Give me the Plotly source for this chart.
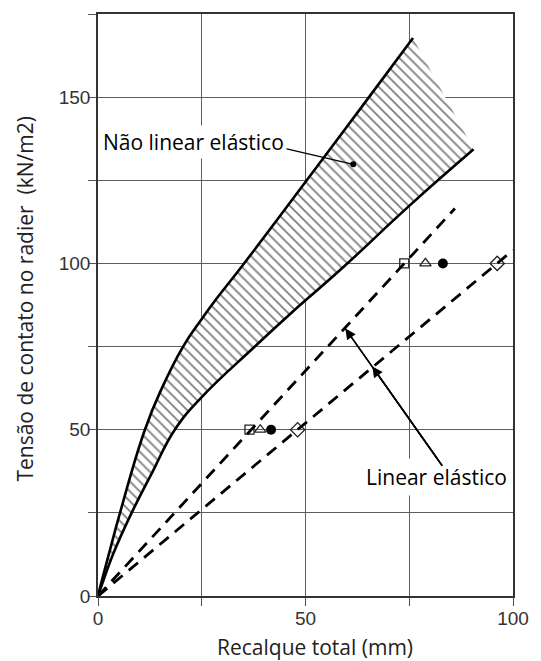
import plotly.graph_objects as go

# ---- data ----
upper_x = [0, 1.0, 2.6, 5.3, 11.3, 15.4, 20.5, 25.0, 28.0, 35.2, 50.3, 65.3, 75.9]
upper_y = [0, 5, 12.5, 25, 50, 62.5, 75, 83.3, 88.5, 100, 125, 150, 167.8]
lower_x = [0, 1.4, 3.6, 8.1, 13.2, 18.5, 25.0, 37.8, 46.3, 58.6, 75.0, 90.5]
lower_y = [0, 5, 12.5, 25, 37.5, 50, 59.8, 75, 84.8, 98.3, 117.3, 134.3]

dash1_x = [0, 86.0]
dash1_y = [0, 116.5]
dash2_x = [0, 100.0]
dash2_y = [0, 104.0]

loads = [50, 100]
square_x = [36.5, 73.8]
triangle_x = [39.1, 78.9]
circle_x = [41.7, 83.1]
diamond_x = [48.1, 96.2]

nl_label = "Não linear elástico"
nl_text_pos = (23.05, 136.6)
nl_leader_x = [44.2, 61.5]
nl_leader_y = [134.8, 129.8]

lin_label = "Linear elástico"
lin_text_pos = (81.6, 35.7)
lin_arrow_start = (83.2, 38.7)
lin_tip1 = (59.6, 80.4)
lin_tip2 = (66.1, 69.0)

x_title = "Recalque total (mm)"
y_title = "Tensão de contato no radier \u00a0(kN/m2)"

x_ticks = [0, 25, 50, 75, 100]
x_ticktext = ["0", "", "50", "", "100"]
y_ticks = [0, 25, 50, 75, 100, 125, 150, 175]
y_ticktext = ["0", "", "50", "", "100", "", "150", ""]

fig = go.Figure()

# hatched band (closed polygon from upper curve and reversed lower curve)
fig.add_trace(go.Scatter(
    x=upper_x + lower_x[::-1], y=upper_y + lower_y[::-1],
    fill="toself", mode="lines", line=dict(width=0, color="rgba(0,0,0,0)"),
    fillcolor="white",
    fillpattern=dict(shape="\\", size=7, solidity=0.26, fgcolor="#000000", bgcolor="white"),
    hoverinfo="skip", showlegend=False))

curve_line = dict(color="black", width=2.6, shape="spline", smoothing=1.3)
fig.add_trace(go.Scatter(x=upper_x, y=upper_y, mode="lines", line=curve_line,
                         hoverinfo="skip", showlegend=False))
fig.add_trace(go.Scatter(x=lower_x, y=lower_y, mode="lines", line=curve_line,
                         hoverinfo="skip", showlegend=False))

# markers
fig.add_trace(go.Scatter(x=square_x, y=loads, mode="markers",
                         marker=dict(symbol="square-open", size=9, color="#222",
                                     line=dict(width=1.3)), showlegend=False))
fig.add_trace(go.Scatter(x=triangle_x, y=loads, mode="markers",
                         marker=dict(symbol="triangle-up-open", size=10, color="#222",
                                     line=dict(width=1.3)), showlegend=False))
fig.add_trace(go.Scatter(x=circle_x, y=loads, mode="markers",
                         marker=dict(symbol="circle", size=10, color="black"), showlegend=False))
fig.add_trace(go.Scatter(x=diamond_x, y=loads, mode="markers",
                         marker=dict(symbol="diamond-open", size=11, color="#222",
                                     line=dict(width=1.3)), showlegend=False))

# dashed linear lines
for dx, dy in [(dash1_x, dash1_y), (dash2_x, dash2_y)]:
    fig.add_trace(go.Scatter(x=dx, y=dy, mode="lines",
                             line=dict(color="black", width=2.8, dash="12px,8px"),
                             showlegend=False))

# leader for non-linear label
fig.add_trace(go.Scatter(x=nl_leader_x, y=nl_leader_y, mode="lines",
                         line=dict(color="black", width=1.3), showlegend=False))
fig.add_trace(go.Scatter(x=[nl_leader_x[-1]], y=[nl_leader_y[-1]], mode="markers",
                         marker=dict(symbol="circle", size=6, color="black"), showlegend=False))

# leader line for linear label
fig.add_trace(go.Scatter(x=[lin_arrow_start[0], lin_tip1[0]], y=[lin_arrow_start[1], lin_tip1[1]],
                         mode="lines", line=dict(color="black", width=1.5), showlegend=False))

txt_font = dict(family="Open Sans, Noto Sans, sans-serif", size=21, color="black")
fig.add_annotation(x=nl_text_pos[0], y=nl_text_pos[1], text=nl_label, showarrow=False,
                   font=txt_font, bgcolor="white", borderpad=2)
fig.add_annotation(x=lin_text_pos[0], y=lin_text_pos[1], text=lin_label, showarrow=False,
                   font=txt_font, bgcolor="white", borderpad=4)
for tip in (lin_tip1, lin_tip2):
    fig.add_annotation(x=tip[0], y=tip[1], ax=lin_arrow_start[0], ay=lin_arrow_start[1],
                       axref="x", ayref="y", xref="x", yref="y", text="",
                       showarrow=True, arrowhead=2, arrowsize=1.4, arrowwidth=1.5,
                       arrowcolor="black")

# axis titles
title_font = dict(family="Open Sans, Noto Sans, sans-serif", size=21, color="#222")
fig.add_annotation(xref="paper", yref="paper", x=0.522, y=-0.0873, text=x_title,
                   showarrow=False, font=title_font, xanchor="center", yanchor="middle")
fig.add_annotation(xref="paper", yref="paper", x=-0.175, y=0.51, text=y_title,
                   showarrow=False, font=title_font, textangle=-90,
                   xanchor="center", yanchor="middle")

axis_common = dict(
    showline=True, linecolor="#333333", linewidth=1.6, mirror=True,
    showgrid=True, gridcolor="#5e5e5e", gridwidth=1.4,
    ticks="outside", ticklen=8, tickwidth=1.3, tickcolor="#555555",
    tickfont=dict(family="Liberation Sans, Arial, sans-serif", size=19, color="#333333"),
    zeroline=False, tickmode="array",
)
fig.update_xaxes(range=[0, 100], tickvals=x_ticks, ticktext=x_ticktext,
                 ticklabelstandoff=-4, **axis_common)
fig.update_yaxes(range=[0, 175], tickvals=y_ticks, ticktext=y_ticktext,
                 ticklabelstandoff=-6, **axis_common)

fig.update_layout(width=541, height=661, margin=dict(l=98, r=20, t=12, b=65),
                  plot_bgcolor="white", paper_bgcolor="white", showlegend=False)

fig.write_html("out.html")
